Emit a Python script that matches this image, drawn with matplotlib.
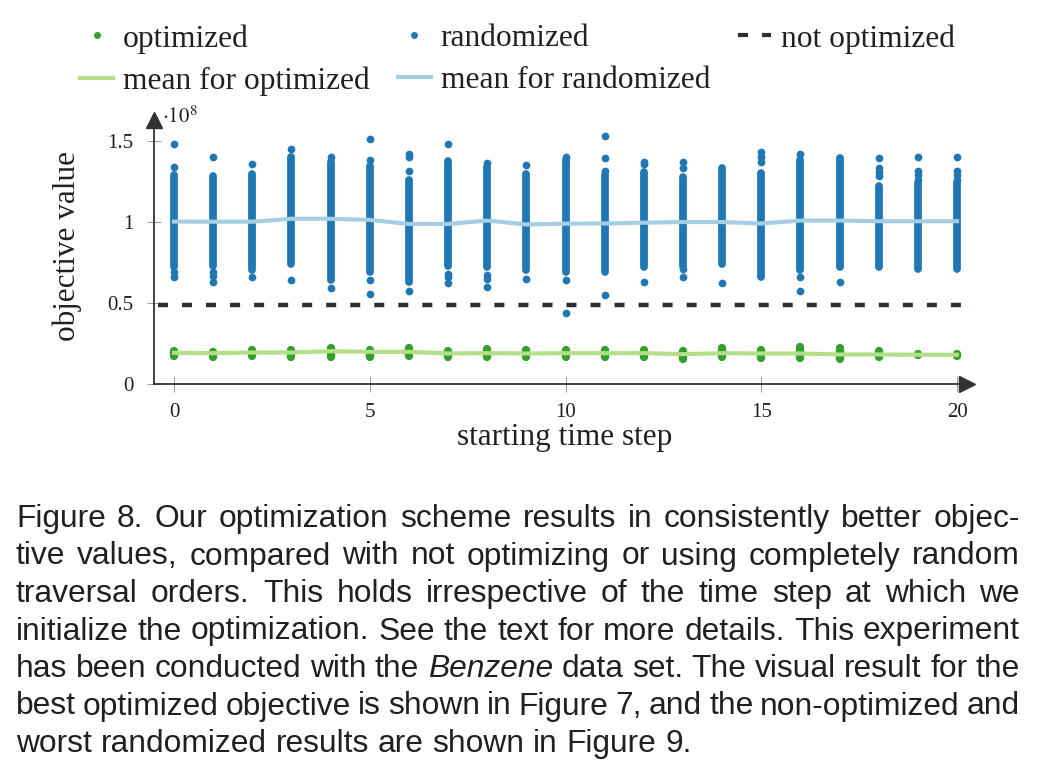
import matplotlib
matplotlib.use("Agg")
import matplotlib.pyplot as plt
from matplotlib.lines import Line2D

plt.rcParams["font.family"] = ["Liberation Serif", "DejaVu Serif"]
plt.rcParams["mathtext.fontset"] = "stix"
plt.rcParams["lines.scale_dashes"] = False

# ---------------- data (values in units of 1e8) ----------------
steps = list(range(21))

# randomized: dense band (low, high) per step + isolated points
rand_lo = [0.72, 0.726, 0.70, 0.74, 0.64, 0.69, 0.63, 0.73, 0.72, 0.70, 0.69,
           0.69, 0.72, 0.73, 0.74, 0.66, 0.70, 0.72, 0.72, 0.71, 0.71]
rand_hi = [1.29, 1.28, 1.295, 1.40, 1.37, 1.345, 1.26, 1.375, 1.34, 1.295, 1.38,
           1.285, 1.305, 1.275, 1.33, 1.30, 1.38, 1.39, 1.22, 1.24, 1.24]
rand_outliers = [
    [1.476, 1.34, 0.69, 0.66],
    [1.40, 0.69, 0.665, 0.628],
    [1.357, 0.66],
    [1.445, 0.64],
    [1.40, 0.593],
    [1.51, 1.38, 0.64, 0.556],
    [1.42, 1.40, 1.31, 0.576],
    [1.48, 0.68, 0.66, 0.62],
    [1.36, 0.67, 0.65, 0.60],
    [1.35, 0.645],
    [1.40, 0.64, 0.44],
    [1.53, 1.39, 1.315, 0.55],
    [1.37, 1.355, 0.63],
    [1.37, 1.33, 0.71, 0.66],
    [0.62],
    [1.43, 1.40, 1.37],
    [1.42, 0.66, 0.576],
    [0.63],
    [1.39, 1.33, 1.305, 1.28],
    [1.40, 1.31, 1.285, 1.26],
    [1.40, 1.31, 1.285, 1.26],
]
mean_rand = [1.001, 1.0, 1.0, 1.018, 1.018, 1.011, 0.986, 0.986, 1.007, 0.983, 0.988,
             0.989, 0.994, 0.998, 0.998, 0.989, 1.007, 1.007, 1.003, 1.003, 1.003]

# optimized: cluster (low, high) per step
opt_lo = [0.174, 0.169, 0.174, 0.169, 0.169, 0.169, 0.174, 0.165, 0.165, 0.165, 0.165,
          0.165, 0.165, 0.155, 0.165, 0.159, 0.159, 0.155, 0.165, 0.176, 0.174]
opt_hi = [0.202, 0.198, 0.210, 0.212, 0.223, 0.212, 0.219, 0.206, 0.217, 0.212, 0.212,
          0.212, 0.212, 0.206, 0.219, 0.212, 0.228, 0.219, 0.202, 0.182, 0.182]
mean_opt = [0.192, 0.190, 0.194, 0.194, 0.202, 0.198, 0.198, 0.188, 0.190, 0.188, 0.190,
            0.190, 0.190, 0.184, 0.190, 0.188, 0.188, 0.182, 0.182, 0.180, 0.180]

not_optimized = 0.487

x_ticks = [0, 5, 10, 15, 20]
y_ticks = [0, 0.5, 1, 1.5]
y_tick_labels = ["0", "0.5", "1", "1.5"]

labels = ["optimized", "mean for optimized", "randomized", "mean for randomized", "not optimized"]

caption = [
    "Figure 8. Our optimization scheme results in consistently better objec-",
    "tive values, compared with not optimizing or using completely random",
    "traversal orders.  This holds irrespective of the time step at which we",
    "initialize the optimization. See the text for more details. This experiment",
    "has been conducted with the *Benzene* data set. The visual result for the",
    "best optimized objective is shown in Figure 7, and the non-optimized and",
    "worst randomized results are shown in Figure 9.",
]

# ---------------- styling ----------------
C_OPT = "#33a02c"
C_OPT_MEAN = "#b2df8a"
C_RAND = "#1f78b4"
C_RAND_MEAN = "#a6cee3"
C_DASH = "#2d2d35"
C_AX = "#333333"
C_TXT = "#231f20"

W, H = 1038, 772
fig = plt.figure(figsize=(W / 100, H / 100), dpi=100)


def fx(px):
    return px / W


def fy(py):
    return 1 - py / H


L, R, B, T = 154, 967, 384, 120
ax = fig.add_axes([fx(L), fy(B), fx(R) - fx(L), fy(T) - fy(B)])
x0px, xscale = 174, 39.15
yscale = 162.3
ax.set_xlim((L - x0px) / xscale, (R - x0px) / xscale)
ax.set_ylim(0, (B - T) / yscale)

# randomized
ax.vlines(steps, rand_lo, rand_hi, colors=C_RAND, linewidth=5.6, capstyle="round", zorder=2)
ox = [s for s, vals in zip(steps, rand_outliers) for _ in vals]
oy = [v for vals in rand_outliers for v in vals]
ax.scatter(ox, oy, s=31, color=C_RAND, linewidths=0, zorder=2)
ax.plot(steps, mean_rand, color=C_RAND_MEAN, lw=3.0, zorder=3)

# optimized
ax.vlines(steps, opt_lo, opt_hi, colors=C_OPT, linewidth=6.0, capstyle="round", zorder=2)
ax.plot(steps, mean_opt, color=C_OPT_MEAN, lw=3.0, zorder=3)

# not optimized (runs across the whole plot, up to the arrow tip)
ax.hlines(not_optimized, (158 - x0px) / xscale, (975 - x0px) / xscale, color=C_DASH,
          lw=3.2, linestyles=(0, (7.2, 10.1)), zorder=2, clip_on=False)

# axes styling
for s in ["top", "right"]:
    ax.spines[s].set_visible(False)
for s in ["left", "bottom"]:
    ax.spines[s].set_color(C_AX)
    ax.spines[s].set_linewidth(1.3)
ax.plot([1], [0], marker=">", ms=11, color=C_AX, transform=ax.transAxes, clip_on=False)
ax.plot([0], [1], marker="^", ms=11, color=C_AX, transform=ax.transAxes, clip_on=False)

ax.set_xticks(x_ticks)
ax.set_xticklabels([str(t) for t in x_ticks])
ax.set_yticks(y_ticks)
ax.set_yticklabels(y_tick_labels)
ax.tick_params(axis="x", direction="inout", length=11.5, width=0.8, color="#a0a0a0",
               pad=8, labelsize=15, labelcolor=C_TXT)
ax.tick_params(axis="y", direction="inout", length=10, width=0.8, color="#a0a0a0",
               pad=10, labelsize=15, labelcolor=C_TXT)

ax.text((162 - L) / (R - L), (B - 122.7) / (B - T), r"$\cdot 10^{8}$",
        transform=ax.transAxes, fontsize=15, color=C_TXT, ha="left", va="baseline")

ax.set_xlabel("starting time step", fontsize=22.5, color=C_TXT, va="center")
ax.xaxis.set_label_coords((565 - L) / (R - L), (B - 438) / (B - T))
ax.set_ylabel("objective value", fontsize=22.5, color=C_TXT, va="center", ha="center",
              rotation_mode="default")
ax.yaxis.set_label_coords((67 - L) / (R - L), (B - 246) / (B - T))

# legend
handles = [
    Line2D([], [], ls="", marker="o", ms=4, color=C_OPT),
    Line2D([], [], color=C_OPT_MEAN, lw=3),
    Line2D([], [], ls="", marker="o", ms=4, color=C_RAND),
    Line2D([], [], color=C_RAND_MEAN, lw=3),
    Line2D([], [], color=C_DASH, lw=3, dashes=(7.2, 10.1)),
]
leg_fs = 22.7
fs_px = leg_fs / 72 * 100
fig.legend(handles, labels, ncol=3, loc="upper left", bbox_to_anchor=(fx(80), fy(24)),
           frameon=False, prop={"size": leg_fs}, handlelength=33 / fs_px,
           handletextpad=10 / fs_px, columnspacing=28 / fs_px, labelspacing=0.4,
           borderpad=0, borderaxespad=0, labelcolor=C_TXT)

# caption (justified)
renderer = fig.canvas.get_renderer()
cap_fs = 22.85
left_px, right_px = 16, 1020
baselines = [527, 564.5, 602, 639.5, 677, 714.5, 752]
for i, (line, by) in enumerate(zip(caption, baselines)):
    words = [w for w in line.split(" ") if w]
    texts = []
    for w in words:
        italic = w.startswith("*")
        w2 = w.strip("*")
        t = fig.text(0, fy(by), w2, fontsize=cap_fs, family=["Liberation Sans", "DejaVu Sans"],
                     style="italic" if italic else "normal", color=C_TXT,
                     ha="left", va="baseline")
        texts.append(t)
    widths = [t.get_window_extent(renderer).width for t in texts]
    last = i == len(caption) - 1
    if last or len(words) == 1:
        gap = 0.278 * cap_fs / 72 * 100
    else:
        gap = (right_px - left_px - sum(widths)) / (len(words) - 1)
    x = left_px
    for t, wd in zip(texts, widths):
        t.set_x(fx(x))
        x += wd + gap

fig.savefig("out.png", dpi=100)
